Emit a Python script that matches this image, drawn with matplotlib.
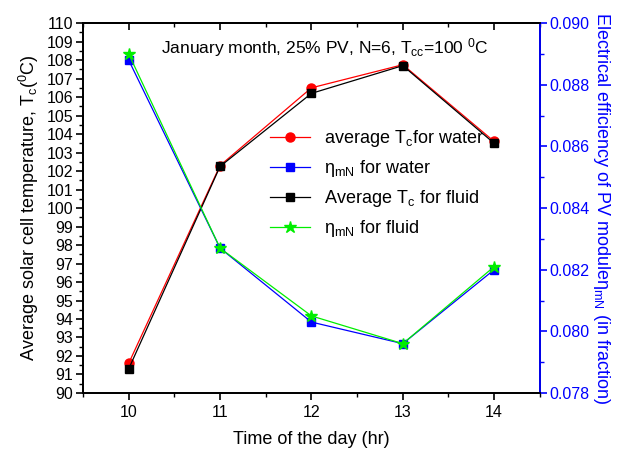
import matplotlib
matplotlib.use("Agg")
import matplotlib.pyplot as plt
from matplotlib.ticker import MultipleLocator, FormatStrFormatter

plt.rcParams['font.family'] = ['Liberation Sans', 'DejaVu Sans']
plt.rcParams['mathtext.fontset'] = 'custom'
plt.rcParams['mathtext.rm'] = 'Liberation Sans'
plt.rcParams['mathtext.it'] = 'Liberation Sans'

# data
hours = [10, 11, 12, 13, 14]
temp_water = [91.6, 102.3, 106.5, 107.75, 103.6]
temp_fluid = [91.3, 102.25, 106.2, 107.7, 103.5]
eff_water = [0.0888, 0.0827, 0.0803, 0.0796, 0.0820]
eff_fluid = [0.0890, 0.0827, 0.0805, 0.0796, 0.0821]

fig = plt.figure(figsize=(6.17, 4.53), dpi=100)
ax = fig.add_axes([0.1345, 0.1325, 0.7405, 0.8165])
ax2 = ax.twinx()

l1, = ax.plot(hours, temp_water, color='red', marker='o', ms=6.5, lw=0.9,
              label='average T$_c$for water')
l3, = ax.plot(hours, temp_fluid, color='black', marker='s', ms=6, lw=0.9,
              label='Average T$_c$ for fluid')
l2, = ax2.plot(hours, eff_water, color='blue', marker='s', ms=6, lw=0.9,
               label=r'η$_{mN}$ for water')
l4, = ax2.plot(hours, eff_fluid, color='#00ee00', marker='*', ms=9, lw=0.9,
               label=r'η$_{mN}$ for fluid')

ax.set_xlim(9.5, 14.5)
ax.set_ylim(90, 110)
ax2.set_ylim(0.078, 0.090)

ax.xaxis.set_major_locator(MultipleLocator(1))
ax.xaxis.set_minor_locator(MultipleLocator(0.5))
ax.yaxis.set_major_locator(MultipleLocator(1))
ax.yaxis.set_minor_locator(MultipleLocator(0.5))
ax2.yaxis.set_major_locator(MultipleLocator(0.002))
ax2.yaxis.set_minor_locator(MultipleLocator(0.001))
ax2.yaxis.set_major_formatter(FormatStrFormatter('%.3f'))

# top ticks point into the plot
top = ax.secondary_xaxis('top')
top.xaxis.set_major_locator(MultipleLocator(1))
top.xaxis.set_minor_locator(MultipleLocator(0.5))
top.tick_params(which='both', direction='in', labeltop=False)
top.tick_params(which='major', length=5, width=1.2)
top.tick_params(which='minor', length=3, width=1)
top.spines['top'].set_linewidth(1.3)

ax.tick_params(axis='x', which='both', direction='out', labelsize=11.5)
ax.tick_params(axis='x', which='major', length=5, width=1.2)
ax.tick_params(axis='x', which='minor', length=3, width=1)
ax.tick_params(axis='y', which='major', length=5, width=1.2, labelsize=11.5, pad=2)
ax.tick_params(axis='y', which='minor', length=3, width=1)
ax2.tick_params(axis='y', which='major', length=5, width=1.2, colors='blue',
                labelsize=11.5, pad=2)
ax2.tick_params(axis='y', which='minor', length=3, width=1, colors='blue')

for s in ax.spines.values():
    s.set_linewidth(1.3)
for s in ax2.spines.values():
    s.set_linewidth(1.3)
ax2.spines['right'].set_color('blue')

ax.set_xlabel('Time of the day (hr)', fontsize=13, labelpad=8)
ax.set_ylabel('Average solar cell temperature, T$_c$($^0$C)', fontsize=13, labelpad=4)
ax2.set_ylabel(r'Electrical efficiency of PV moduleη$_{mN}$ (in fraction)',
               fontsize=13, color='blue', rotation=270, labelpad=16)

ax.text(0.53, 0.935, 'January month, 25% PV, N=6, T$_{cc}$=100 $^0$C',
        transform=ax.transAxes, ha='center', va='center', fontsize=12.5)

ax2.legend([l1, l2, l3, l4], [l.get_label() for l in [l1, l2, l3, l4]],
           loc='upper left', bbox_to_anchor=(0.39, 0.74), frameon=False,
           fontsize=13, handlelength=2.2, labelspacing=0.5, borderpad=0)

fig.savefig('out.png', dpi=100)
